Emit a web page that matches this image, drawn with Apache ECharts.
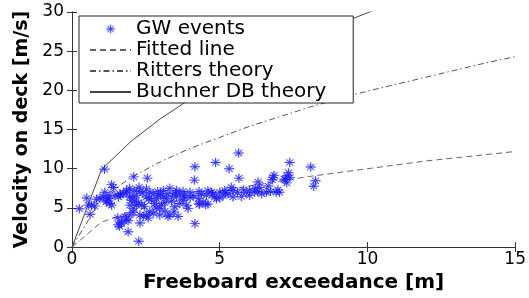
<!DOCTYPE html>
<html>
<head>
<meta charset="utf-8">
<script src="https://cdn.jsdelivr.net/npm/echarts@6/dist/echarts.min.js"></script>
<style>
  html, body { margin: 0; padding: 0; background: #fff; }
  #chart { width: 529px; height: 298px; }
</style>
</head>
<body>
<div id="chart"></div>
<script>
// GW events (freeboard exceedance [m], velocity on deck [m/s])
var gwX = [1.10, 5.64, 4.86, 5.32, 4.16, 7.37, 8.08, 2.09, 2.55, 4.14, 5.65, 1.34, 1.40, 6.30, 6.80, 6.84, 7.33, 7.28, 7.38, 7.22,
  7.27, 8.24, 8.18, 6.64, 6.35, 6.97, 6.72, 6.42, 6.01, 5.90, 5.73, 5.39, 5.45, 5.28, 5.11, 5.00, 4.89, 4.72, 4.55, 4.38,
  4.44, 4.32, 4.52, 4.16, 3.87, 3.93, 3.99, 3.76, 3.65, 3.54, 3.42, 3.31, 3.25, 3.20, 3.14, 3.03, 2.97, 3.31, 3.25, 2.86,
  2.92, 2.75, 2.63, 2.52, 2.52, 2.69, 2.80, 2.63, 2.52, 2.41, 2.30, 2.27, 2.30, 2.18, 2.07, 2.02, 2.13, 2.24, 2.18, 2.36,
  1.96, 2.07, 1.85, 1.73, 1.62, 1.57, 1.45, 1.28, 1.23, 1.17, 1.28, 1.34, 1.11, 1.06, 0.95, 0.83, 0.50, 0.55, 0.66, 0.25,
  0.61, 1.90, 1.68, 1.57, 1.90, 2.26, 2.07, 1.96, 1.79, 1.55, 2.30, 2.97, 3.59, 2.58, 2.75, 3.48, 3.65, 4.10, 4.27, 3.76,
  3.37, 3.09, 3.09, 3.54, 3.82, 6.01, 6.18, 6.58, 7.02, 5.45, 5.17, 4.83, 4.77, 6.29, 6.91, 6.20, 7.18, 6.78, 1.22, 1.16,
  1.64, 1.84, 1.95, 0.77, 1.67, 1.61, 1.84, 2.40, 2.60, 2.90, 3.00, 3.50, 3.80, 4.00, 4.30, 4.60, 5.00, 5.20, 5.60, 5.80,
  2.10, 1.95, 2.45, 2.85, 3.15, 3.45, 4.60, 4.30];
var gwY = [9.93, 12.0, 10.8, 10.0, 10.25, 10.8, 10.22, 8.96, 8.80, 8.55, 8.80, 7.97, 7.60, 8.30, 8.90, 9.15, 9.50, 9.10, 8.90, 8.60,
  8.20, 8.47, 7.76, 7.80, 7.60, 7.30, 7.10, 6.80, 7.25, 6.93, 6.47, 7.63, 7.22, 6.80, 6.60, 6.27, 6.18, 7.00, 6.60, 6.80,
  5.77, 5.56, 5.44, 2.99, 5.35, 4.94, 7.00, 7.10, 6.80, 6.39, 6.60, 7.51, 6.80, 6.18, 5.68, 5.35, 4.94, 4.10, 3.90, 6.18,
  6.60, 6.80, 7.00, 7.43, 6.39, 5.98, 5.56, 4.52, 4.10, 3.90, 3.07, 7.63, 7.10, 6.60, 6.39, 5.98, 5.85, 5.68, 5.35, 5.44,
  5.35, 4.94, 7.00, 6.80, 6.80, 6.39, 6.60, 6.60, 6.18, 5.98, 5.56, 5.35, 7.00, 6.39, 6.27, 6.10, 6.27, 5.35, 5.35, 4.90,
  4.19, 3.36, 3.20, 2.86, 1.95, 0.75, 4.44, 4.10, 3.90, 3.75, 4.10, 4.10, 3.90, 3.70, 4.32, 5.15, 5.56, 6.60, 6.18, 5.98,
  5.85, 6.39, 7.22, 7.22, 6.39, 6.60, 7.00, 7.00, 7.00, 6.39, 7.22, 6.39, 6.80, 7.10, 7.00, 7.50, 8.67, 8.60, 6.20, 5.77,
  6.68, 7.20, 6.40, 5.23, 3.07, 2.65, 3.49, 6.90, 6.20, 7.10, 6.80, 6.90, 6.60, 6.30, 7.10, 7.20, 7.00, 6.90, 7.00, 7.30,
  7.20, 7.50, 5.20, 5.00, 4.60, 4.50, 5.50, 5.45];

// curves, sampled at whole metres
var lineX = [0, 1, 2, 3, 4, 5, 6, 7, 8, 9, 10, 11, 12, 13, 14, 15];
var fittedY = [0, 3.2, 4.5, 5.5, 6.35, 7.1, 7.8, 8.4, 9.0, 9.5, 10.0, 10.5, 11.0, 11.4, 11.8, 12.2];
var rittersY = [0, 6.2, 8.9, 10.9, 12.6, 14.0, 15.4, 16.6, 17.8, 18.9, 19.9, 20.8, 21.7, 22.6, 23.5, 24.3];
var buchnerY = [0, 9.9, 13.5, 16.4, 18.9, 21.1, 23.1, 25.0, 26.7, 28.4, 29.9, 31.4];

var xTicks = { min: 0, max: 15, interval: 5 };
var yTicks = { min: 0, max: 30, interval: 5 };

function pairs(xs, ys) {
  return ys.map(function (y, i) { return [xs[i], y]; });
}

// matlab style '*' marker
var star = 'path://M45,0L55,0L55,100L45,100Z M0,45L100,45L100,55L0,55Z M13,19L19,13L87,81L81,87Z M81,13L87,19L19,87L13,81Z';

var axisColor = '#333';
var tickFont = { fontFamily: 'DejaVu Sans', fontSize: 17, color: '#000' };
// line items in the legend: just the stroke, no marker
var noMarker = { color: 'rgba(0,0,0,0)', borderWidth: 0 };

var chart = echarts.init(document.getElementById('chart'));
chart.setOption({
  animation: false,
  backgroundColor: '#fff',
  grid: { left: 72, right: 13, top: 12, bottom: 45 },
  legend: {
    orient: 'vertical',
    left: 79,
    top: 16,
    padding: [3, 27, 1, 10],
    itemGap: 1,
    itemWidth: 41,
    itemHeight: 8,
    backgroundColor: '#fff',
    borderColor: '#222',
    borderWidth: 1,
    textStyle: { fontFamily: 'DejaVu Sans', fontSize: 20, lineHeight: 20, color: '#000' },
    data: [
      { name: 'GW events', icon: star },
      { name: 'Fitted line', itemStyle: noMarker },
      { name: 'Ritters theory', itemStyle: noMarker },
      { name: 'Buchner DB theory', itemStyle: noMarker }
    ]
  },
  xAxis: [{
    type: 'value',
    min: xTicks.min, max: xTicks.max, interval: xTicks.interval,
    name: 'Freeboard exceedance [m]',
    nameLocation: 'middle',
    nameGap: 18,
    nameTextStyle: { fontFamily: 'DejaVu Sans', fontWeight: 'bold', fontSize: 20, color: '#000' },
    axisLine: { lineStyle: { color: axisColor } },
    axisTick: { inside: true, length: 5, lineStyle: { color: axisColor } },
    axisLabel: Object.assign({ margin: 4 }, tickFont),
    splitLine: { show: false }
  }, {
    type: 'value', position: 'top',
    min: xTicks.min, max: xTicks.max, interval: xTicks.interval,
    axisLine: { show: true, lineStyle: { color: axisColor } },
    axisTick: { inside: true, length: 5, lineStyle: { color: axisColor } },
    axisLabel: { show: false },
    splitLine: { show: false }
  }],
  yAxis: [{
    type: 'value',
    min: yTicks.min, max: yTicks.max, interval: yTicks.interval,
    name: 'Velocity on deck [m/s]',
    nameLocation: 'middle',
    nameGap: 40,
    nameTextStyle: { fontFamily: 'DejaVu Sans', fontWeight: 'bold', fontSize: 19, color: '#000' },
    axisLine: { show: true, lineStyle: { color: axisColor } },
    axisTick: { show: true, inside: true, length: 5, lineStyle: { color: axisColor } },
    axisLabel: Object.assign({ margin: 8 }, tickFont),
    splitLine: { show: false }
  }, {
    type: 'value', position: 'right',
    min: yTicks.min, max: yTicks.max, interval: yTicks.interval,
    axisLine: { show: true, lineStyle: { color: axisColor } },
    axisTick: { show: true, inside: true, length: 5, lineStyle: { color: axisColor } },
    axisLabel: { show: false },
    splitLine: { show: false }
  }],
  series: [
    {
      name: 'GW events',
      type: 'scatter',
      symbol: star,
      symbolSize: [10, 9],
      itemStyle: { color: '#0000ff', borderColor: 'rgba(90,90,255,0.25)', borderWidth: 1 },
      data: pairs(gwX, gwY),
      z: 3
    },
    {
      name: 'Fitted line',
      type: 'line',
      symbol: 'none',
      lineStyle: { color: '#666', width: 1, type: [6, 4] },
      itemStyle: { color: '#666' },
      data: pairs(lineX, fittedY)
    },
    {
      name: 'Ritters theory',
      type: 'line',
      symbol: 'none',
      lineStyle: { color: '#555', width: 1, type: [6, 3, 1.5, 3] },
      itemStyle: { color: '#555' },
      data: pairs(lineX, rittersY)
    },
    {
      name: 'Buchner DB theory',
      type: 'line',
      symbol: 'none',
      lineStyle: { color: '#444', width: 1 },
      itemStyle: { color: '#444' },
      data: pairs(lineX, buchnerY)
    }
  ]
});
</script>
</body>
</html>
